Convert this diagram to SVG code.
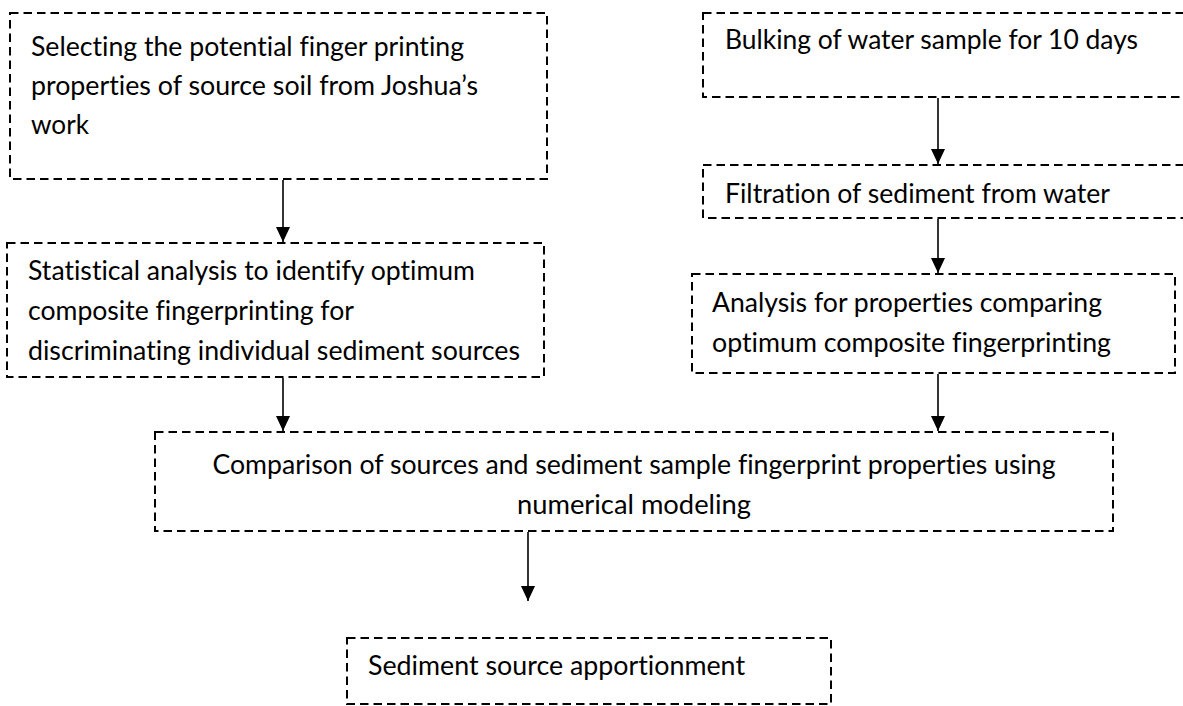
<svg xmlns="http://www.w3.org/2000/svg" width="1183" height="706" viewBox="0 0 1183 706">
<style>
.box{fill:#fff;stroke:#000;stroke-width:2;stroke-dasharray:8.5 5}
.t{font-family:Lato,"Liberation Sans",sans-serif;font-size:26px;fill:#000;font-variant-ligatures:none;font-feature-settings:"liga" 0,"clig" 0}
.c{stroke:#000;stroke-width:1.6;fill:none;marker-end:url(#ah)}
</style>
<defs>
<marker id="ah" markerWidth="15" markerHeight="14" refX="15" refY="7" orient="auto" markerUnits="userSpaceOnUse" viewBox="0 0 15 14">
<path d="M0,0 L15,7 L0,14 Z" fill="#000"/>
</marker>
</defs>
<rect width="1183" height="706" fill="#fff"/>
<g id="n1">
<rect class="box" x="10" y="13" width="537" height="166"/>
<text class="t" x="31" y="56" textLength="433" lengthAdjust="spacingAndGlyphs">Selecting the potential finger printing</text>
<text class="t" x="31" y="95" textLength="447" lengthAdjust="spacingAndGlyphs">properties of source soil from Joshua’s</text>
<text class="t" x="31" y="134" textLength="58" lengthAdjust="spacingAndGlyphs">work</text>
</g>
<g id="n2">
<rect class="box" x="7" y="243" width="537" height="134"/>
<text class="t" x="28" y="280" textLength="447" lengthAdjust="spacingAndGlyphs">Statistical analysis to identify optimum</text>
<text class="t" x="28" y="320" textLength="326" lengthAdjust="spacingAndGlyphs">composite fingerprinting for</text>
<text class="t" x="28" y="360" textLength="492" lengthAdjust="spacingAndGlyphs">discriminating individual sediment sources</text>
</g>
<g id="r1">
<rect class="box" x="703" y="13" width="500" height="84"/>
<text class="t" x="725" y="49" textLength="413" lengthAdjust="spacingAndGlyphs">Bulking of water sample for 10 days</text>
</g>
<g id="r2">
<rect class="box" x="703" y="165" width="500" height="53"/>
<text class="t" x="725" y="203" textLength="385" lengthAdjust="spacingAndGlyphs">Filtration of sediment from water</text>
</g>
<g id="r3">
<rect class="box" x="692" y="274" width="483" height="99"/>
<text class="t" x="712" y="312" textLength="390" lengthAdjust="spacingAndGlyphs">Analysis for properties comparing</text>
<text class="t" x="712" y="352" textLength="399" lengthAdjust="spacingAndGlyphs">optimum composite fingerprinting</text>
</g>
<g id="n3">
<rect class="box" x="155" y="432" width="958" height="99"/>
<text class="t" x="634" y="474" text-anchor="middle" textLength="843" lengthAdjust="spacingAndGlyphs">Comparison of sources and sediment sample fingerprint properties using</text>
<text class="t" x="634" y="514" text-anchor="middle" textLength="234" lengthAdjust="spacingAndGlyphs">numerical modeling</text>
</g>
<g id="n4">
<rect class="box" x="347" y="638" width="484" height="66"/>
<text class="t" x="368" y="675" textLength="377" lengthAdjust="spacingAndGlyphs">Sediment source apportionment</text>
</g>
<g id="connectors">
<path class="c" d="M283 180 V242"/>
<path class="c" d="M283 378 V431"/>
<path class="c" d="M938 98 V164"/>
<path class="c" d="M938 219 V273"/>
<path class="c" d="M938 374 V431"/>
<path class="c" d="M528 532 V601"/>
</g>
</svg>
